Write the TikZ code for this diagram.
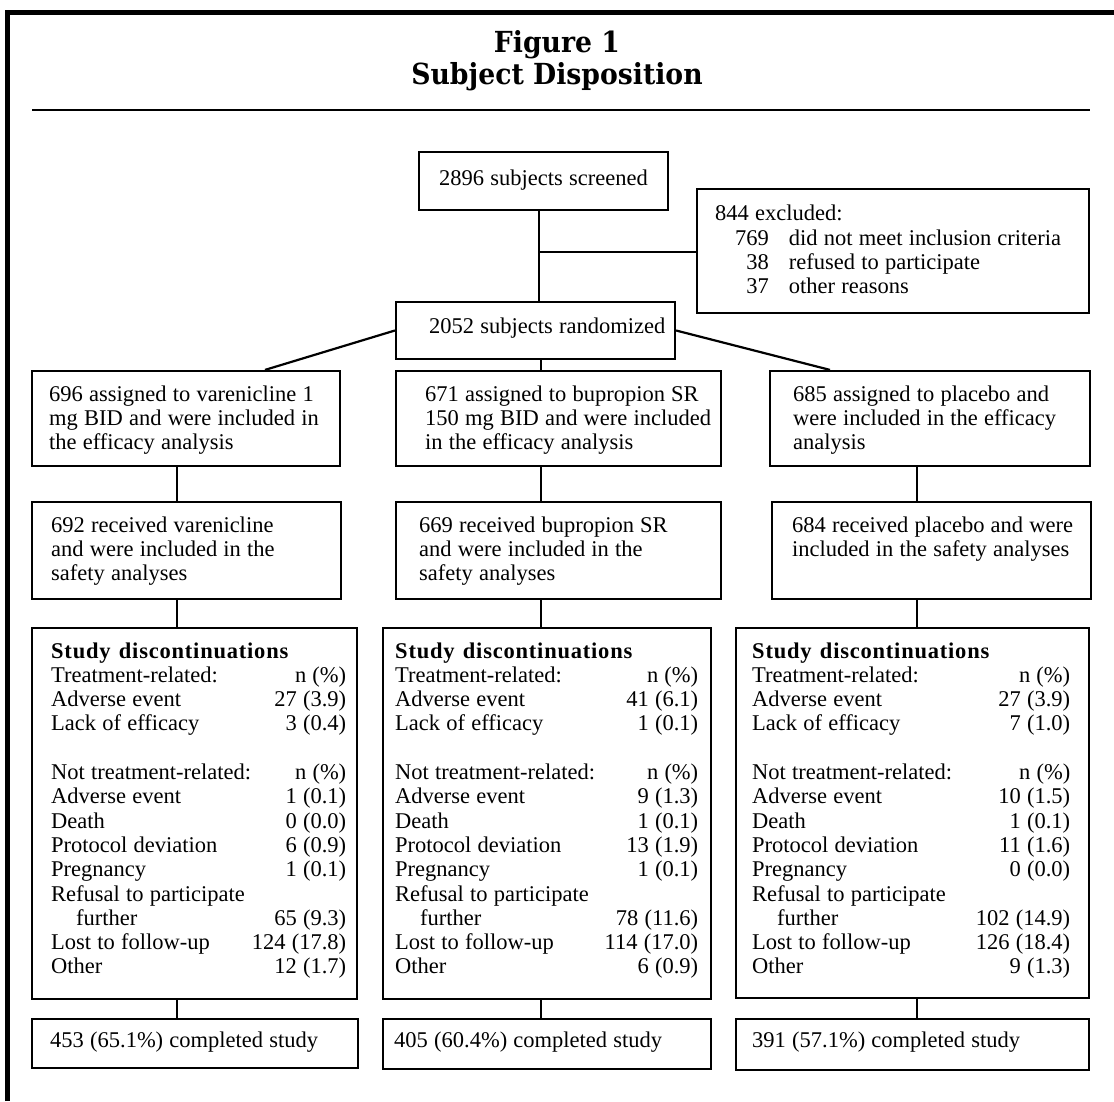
\documentclass[tikz,border=0pt]{standalone}
\usepackage{fontspec}
\setmainfont{Liberation Serif}[WordSpace=1.1]
\newfontfamily\titlefont{DejaVu Serif}[FakeStretch=0.92]
\newfontfamily\headfont{Liberation Serif}[LetterSpace=3.5,WordSpace=1.3]
\usetikzlibrary{fit}
\newlength\dw
\newcommand\mylines[1]{\begin{tabular}[t]{@{}l@{}}#1\end{tabular}}
\newcommand\dr[2]{\makebox[\dw][l]{#1\hfill #2}}
\newcommand\mydisc[2]{\setlength\dw{#1}\begin{tabular}[t]{@{}l@{}}#2\end{tabular}}
\newcommand\dischead{{\headfont\bfseries Study discontinuations}}
\tikzset{
  boxst/.style={draw, line width=2.2pt, inner sep=0pt, rectangle},
  txt/.style={anchor=base west, inner sep=0pt, font=\fontsize{22.5}{24.3}\selectfont},
  conn/.style={line width=2.2pt},
  titlest/.style={align=center, inner sep=0pt, font=\fontsize{29}{32}\selectfont\titlefont\bfseries}
}
\begin{document}
\begin{tikzpicture}[x=1pt, y=-1pt]
\useasboundingbox (0,0) rectangle (1114,1101);
% frame
\draw[line width=5.2pt, line join=miter] (7.8,1101) -- (7.8,12.6) -- (1114,12.6);
\draw[line width=2.7pt] (32,110) -- (1090,110);
\node[titlest] (ttl) at (557,61) {Figure 1\\Subject Disposition};

% boxes
\node[boxst, fit={(419,152) (668,210)}] (scr) {};
\node[boxst, fit={(697,189) (1089,313)}] (exc) {};
\node[boxst, fit={(396,302) (675,359)}] (rnd) {};
\node[boxst, fit={(32,371) (340,466)}] (a1) {};
\node[boxst, fit={(396,371) (721,466)}] (a2) {};
\node[boxst, fit={(770,371) (1090,466)}] (a3) {};
\node[boxst, fit={(32,502) (341,599)}] (s1) {};
\node[boxst, fit={(396,502) (721,599)}] (s2) {};
\node[boxst, fit={(772,502) (1091,599)}] (s3) {};
\node[boxst, fit={(32,628) (357,999)}] (d1) {};
\node[boxst, fit={(383,628) (711,999)}] (d2) {};
\node[boxst, fit={(736,628) (1089,998)}] (d3) {};
\node[boxst, fit={(32,1019) (358,1068)}] (c1) {};
\node[boxst, fit={(383,1019) (711,1069)}] (c2) {};
\node[boxst, fit={(736,1019) (1089,1070)}] (c3) {};

% texts
\node[txt] (tscr) at (439,185) {2896 subjects screened};
\node[txt] (texh) at (715,220) {844 excluded:};
\node[txt] (texl) at (735,245) {\begin{tabular}[t]{@{}r@{\hspace{20pt}}l@{}}769 & did not meet inclusion criteria\\ 38 & refused to participate\\ 37 & other reasons\end{tabular}};
\node[txt] (trnd) at (429,333) {2052 subjects randomized};
\node[txt] (ta1) at (49,401) {\mylines{696 assigned to varenicline 1\\mg BID and were included in\\the efficacy analysis}};
\node[txt] (ta2) at (425,401) {\mylines{671 assigned to bupropion SR\\150 mg BID and were included\\in the efficacy analysis}};
\node[txt] (ta3) at (793,401) {\mylines{685 assigned to placebo and\\were included in the efficacy\\analysis}};
\node[txt] (ts1) at (51,532) {\mylines{692 received varenicline\\and were included in the\\safety analyses}};
\node[txt] (ts2) at (419,532) {\mylines{669 received bupropion SR\\and were included in the\\safety analyses}};
\node[txt] (ts3) at (792,532) {\mylines{684 received placebo and were\\included in the safety analyses}};
\node[txt] (td1) at (51,658) {\mydisc{295pt}{\dischead\\
\dr{Treatment-related:}{n (\%)}\\
\dr{Adverse event}{27 (3.9)}\\
\dr{Lack of efficacy}{3 (0.4)}\\
\\
\dr{Not treatment-related:}{n (\%)}\\
\dr{Adverse event}{1 (0.1)}\\
\dr{Death}{0 (0.0)}\\
\dr{Protocol deviation}{6 (0.9)}\\
\dr{Pregnancy}{1 (0.1)}\\
Refusal to participate\\
\dr{\hspace*{25pt}further}{65 (9.3)}\\
\dr{Lost to follow-up}{124 (17.8)}\\
\dr{Other}{12 (1.7)}}};
\node[txt] (td2) at (395,658) {\mydisc{303pt}{\dischead\\
\dr{Treatment-related:}{n (\%)}\\
\dr{Adverse event}{41 (6.1)}\\
\dr{Lack of efficacy}{1 (0.1)}\\
\\
\dr{Not treatment-related:}{n (\%)}\\
\dr{Adverse event}{9 (1.3)}\\
\dr{Death}{1 (0.1)}\\
\dr{Protocol deviation}{13 (1.9)}\\
\dr{Pregnancy}{1 (0.1)}\\
Refusal to participate\\
\dr{\hspace*{25pt}further}{78 (11.6)}\\
\dr{Lost to follow-up}{114 (17.0)}\\
\dr{Other}{6 (0.9)}}};
\node[txt] (td3) at (752,658) {\mydisc{318pt}{\dischead\\
\dr{Treatment-related:}{n (\%)}\\
\dr{Adverse event}{27 (3.9)}\\
\dr{Lack of efficacy}{7 (1.0)}\\
\\
\dr{Not treatment-related:}{n (\%)}\\
\dr{Adverse event}{10 (1.5)}\\
\dr{Death}{1 (0.1)}\\
\dr{Protocol deviation}{11 (1.6)}\\
\dr{Pregnancy}{0 (0.0)}\\
Refusal to participate\\
\dr{\hspace*{25pt}further}{102 (14.9)}\\
\dr{Lost to follow-up}{126 (18.4)}\\
\dr{Other}{9 (1.3)}}};
\node[txt] (tc1) at (50,1047) {453 (65.1\%) completed study};
\node[txt] (tc2) at (394,1047) {405 (60.4\%) completed study};
\node[txt] (tc3) at (752,1047) {391 (57.1\%) completed study};

% connector guides
\coordinate (xa) at (539,0);
\coordinate (xb) at (541,0);
\coordinate (yb) at (539,252);
\coordinate (dl) at (265,0);
\coordinate (dr) at (830,0);
\coordinate (colL) at (177,0);
\coordinate (colM) at (541,0);
\coordinate (colR) at (917,0);

\draw[conn] (scr.south -| xa) -- (rnd.north -| xa);
\draw[conn] (yb) -- (yb -| exc.west);
\draw[conn] (rnd.west) -- (a1.north -| dl);
\draw[conn] (rnd.east) -- (a3.north -| dr);
\draw[conn] (rnd.south -| xb) -- (a2.north -| xb);
\draw[conn] (a1.south -| colL) -- (s1.north -| colL);
\draw[conn] (s1.south -| colL) -- (d1.north -| colL);
\draw[conn] (d1.south -| colL) -- (c1.north -| colL);
\draw[conn] (a2.south -| colM) -- (s2.north -| colM);
\draw[conn] (s2.south -| colM) -- (d2.north -| colM);
\draw[conn] (d2.south -| colM) -- (c2.north -| colM);
\draw[conn] (a3.south -| colR) -- (s3.north -| colR);
\draw[conn] (s3.south -| colR) -- (d3.north -| colR);
\draw[conn] (d3.south -| colR) -- (c3.north -| colR);
\end{tikzpicture}
\end{document}
